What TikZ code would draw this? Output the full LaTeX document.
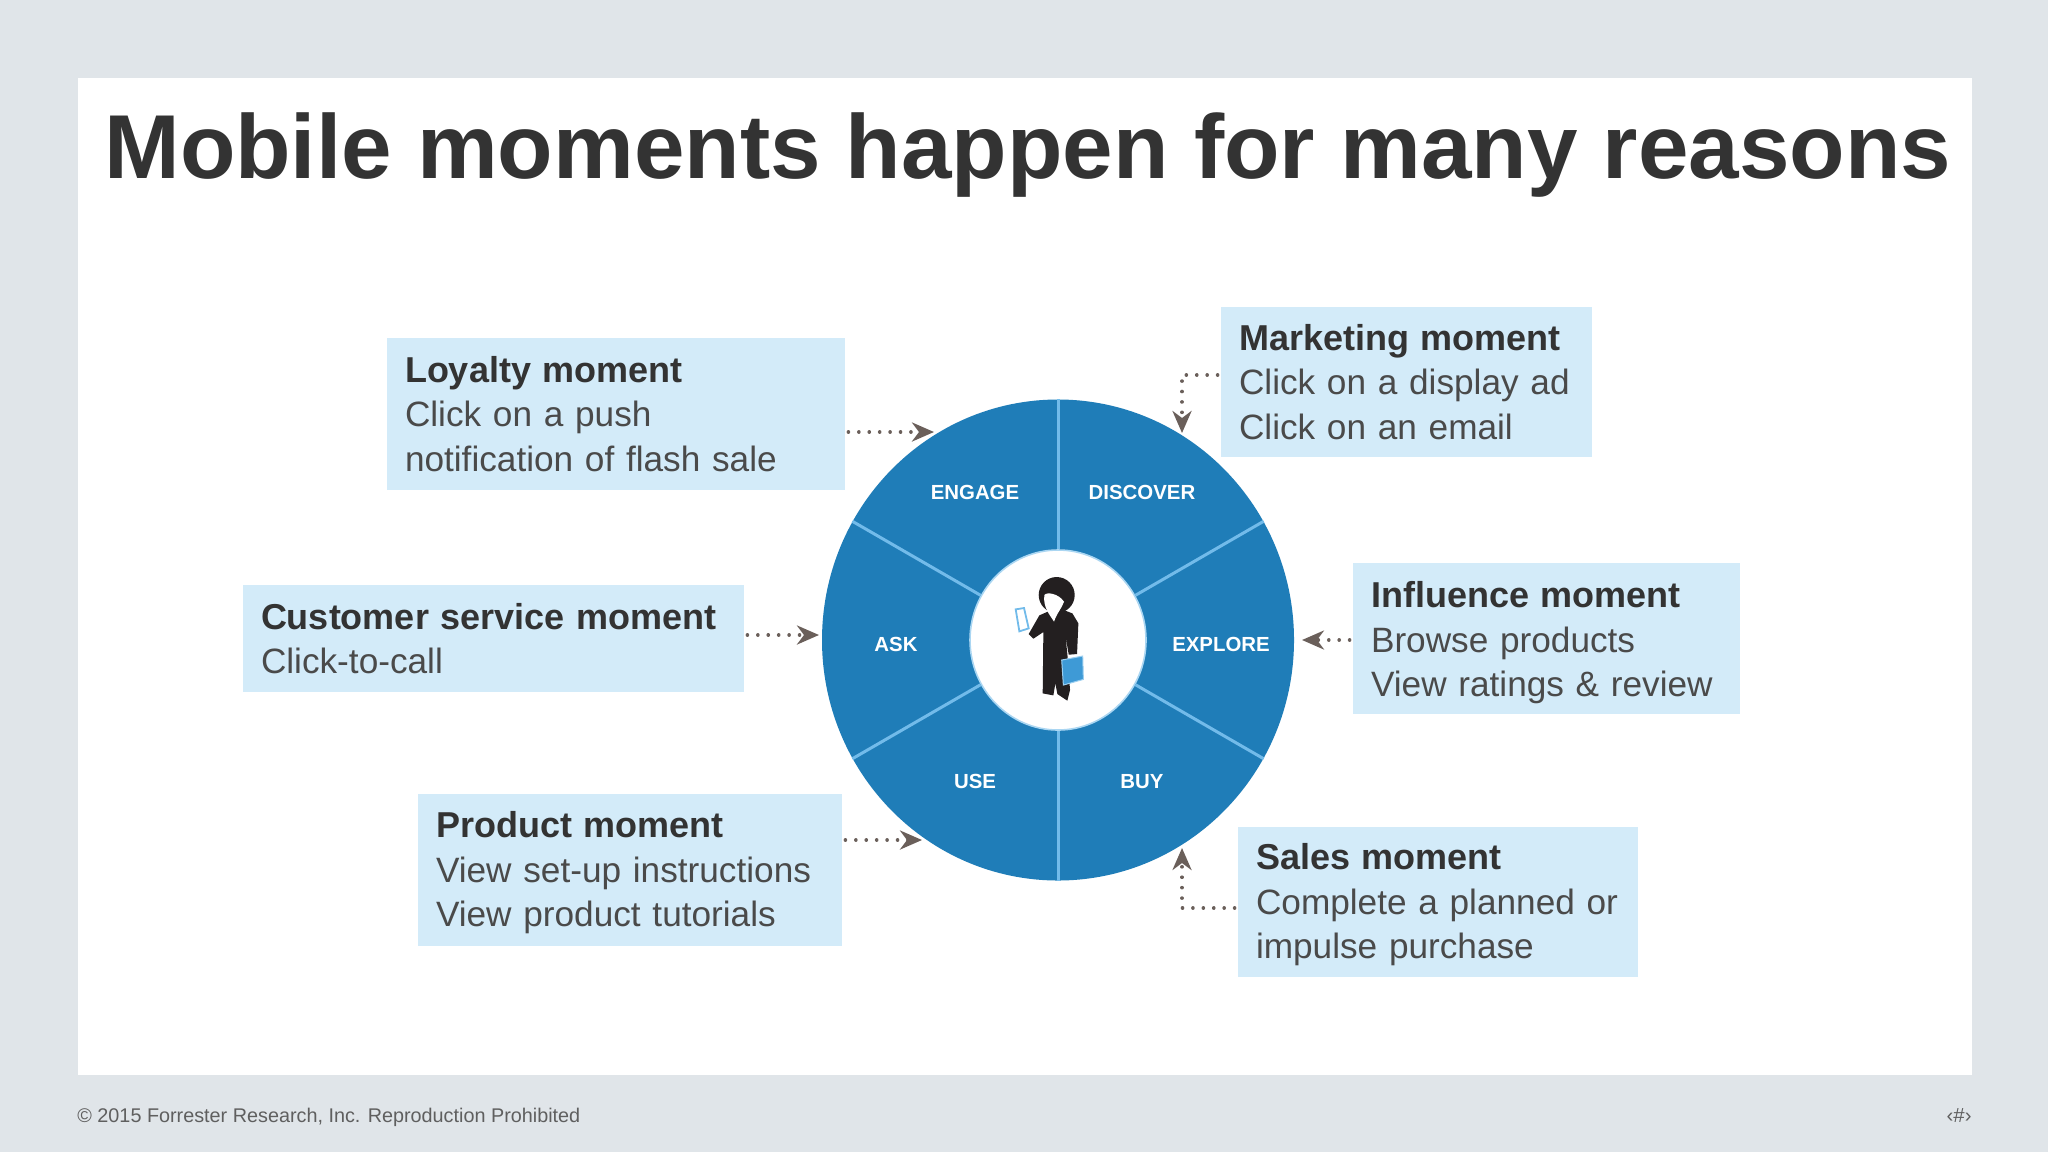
\documentclass[tikz,border=0pt]{standalone}
\usepackage{fontspec}
\setmainfont{Liberation Sans}
\usetikzlibrary{arrows.meta,shapes.geometric}
\definecolor{pagebg}{HTML}{E0E5E9}
\definecolor{titlecol}{HTML}{333333}
\definecolor{bodycol}{HTML}{4A4A4A}
\definecolor{boxfill}{HTML}{D3EBF9}
\definecolor{ringblue}{HTML}{1F7DB8}
\definecolor{divblue}{HTML}{72BBEA}
\definecolor{arrowcol}{HTML}{6A5F5A}
\definecolor{footcol}{HTML}{5F5F5F}
\definecolor{figcol}{HTML}{231F20}
\definecolor{bookcol}{HTML}{3E9AD6}
\newcommand{\hd}[2][0pt]{\rule{0pt}{#1}{\bfseries\fontsize{18}{22.2}\selectfont\color{titlecol}#2}}
\tikzset{
  x=0.5pt,y=-0.5pt,
  cbox/.style={fill=boxfill,draw=none,inner xsep=9pt,inner ysep=0pt,align=left,
    font=\fontsize{17.6}{22.2}\selectfont,text=bodycol,anchor=center},
  seglabel/.style={text=white,font=\bfseries\fontsize{10.2}{12}\selectfont,inner sep=0pt},
  dottedarrow/.style={draw=arrowcol,line width=1.8pt,line cap=round,dash pattern=on 0.01pt off 5.2pt,shorten <=1.5pt,
    -{Stealth[length=11pt,width=9.5pt,inset=3.5pt,fill=arrowcol]}},
  divider/.style={draw=divblue,line width=1.5pt},
  wedge/.style={ellipse,inner sep=0pt,fill=ringblue,minimum width=236pt,minimum height=240.5pt},
  hubdisc/.style={ellipse,inner sep=0pt,fill=white,draw=divblue!60,line width=0.8pt,minimum width=88pt,minimum height=90pt},
}
\begin{document}
\begin{tikzpicture}
\useasboundingbox (0,0) rectangle (2048,1152);
\fill[pagebg] (0,0) rectangle (2048,1152);
\fill[white] (78,78) rectangle (1972,1075);
\node[anchor=base west,inner sep=0pt,text=titlecol,font=\bfseries\fontsize{45.4}{53}\selectfont] (title) at (104,178) {Mobile moments happen for many reasons};

\node[wedge] (disc) at (1058,640) {};
\node[hubdisc] (hub) at (1058,640) {};
\draw[divider] (hub.90) -- (disc.90);
\draw[divider] (hub.270) -- (disc.270);
\draw[divider] (hub.30) -- (disc.30);
\draw[divider] (hub.150) -- (disc.150);
\draw[divider] (hub.210) -- (disc.210);
\draw[divider] (hub.330) -- (disc.330);

\node[seglabel] (engage) at (975,492) {ENGAGE};
\node[seglabel] (discover) at (1142,492) {DISCOVER};
\node[seglabel] (ask) at (896,644) {ASK};
\node[seglabel] (explore) at (1221,644) {EXPLORE};
\node[seglabel] (use) at (975,781) {USE};
\node[seglabel] (buy) at (1142,782) {BUY};

% person
\begin{scope}[shift={(950,520)},x=0.1667pt,y=-0.1667pt]
  \fill[figcol] (320,225) circle (54);
  \fill[figcol] (300,272) -- (268,286) -- (236,342) -- (250,356) -- (280,336) -- (278,520) -- (310,526)
    -- (316,490) -- (322,522) -- (352,542) -- (360,510) -- (352,402) -- (346,345) -- (356,404)
    -- (381,402) -- (385,310) -- (367,280) -- (330,266) -- cycle;
  \fill[white] (283,225) .. controls (290,215) and (325,220) .. (342,245)
     .. controls (335,265) and (320,280) .. (312,305) .. controls (300,285) and (278,262) .. (283,225) -- cycle;
  \filldraw[fill=white,draw=divblue,line width=0.9pt] (197,268) -- (222,264) -- (236,325) -- (208,334) -- cycle;
  \filldraw[fill=bookcol,draw=divblue!70,line width=0.5pt] (335,420) -- (398,408) -- (400,478) -- (340,495) -- cycle;
\end{scope}

\node[cbox,text width=211pt,minimum height=76pt] (loyalty) at (616,414) {\hd{Loyalty moment}\\Click on a push\\notification of flash sale};
\node[cbox,text width=167.5pt,minimum height=75pt] (marketing) at (1406.5,382) {\hd{Marketing moment}\\Click on a display ad\\Click on an email};
\node[cbox,text width=175.5pt,minimum height=75.5pt] (influence) at (1546.5,638.5) {\hd[17.5pt]{Influence moment}\\Browse products\\View ratings \& review};
\node[cbox,text width=232.5pt,minimum height=53.5pt] (customer) at (493.5,638.5) {\hd{Customer service moment}\\Click-to-call};
\node[cbox,text width=194pt,minimum height=76pt] (product) at (630,870) {\hd[16pt]{Product moment}\\View set-up instructions\\View product tutorials};
\node[cbox,text width=182pt,minimum height=75pt] (sales) at (1438,902) {\hd[16pt]{Sales moment}\\Complete a planned or\\impulse purchase};

\coordinate (tipL) at (934,432);
\coordinate (elbowM) at (1182,375);
\coordinate (tipM) at (1182,433);
\coordinate (tipI) at (1302,640);
\coordinate (tipC) at (819,635);
\coordinate (tipP) at (922,840);
\coordinate (elbowS) at (1182,908);
\coordinate (tipS) at (1182,848);
\draw[dottedarrow] (loyalty.east |- tipL) -- (tipL);
\draw[dottedarrow] (marketing.west |- elbowM) -- (elbowM) -- (tipM);
\draw[dottedarrow] (influence.west |- tipI) -- (tipI);
\draw[dottedarrow] (customer.east |- tipC) -- (tipC);
\draw[dottedarrow] (product.east |- tipP) -- (tipP);
\draw[dottedarrow] (sales.west |- elbowS) -- (elbowS) -- (tipS);

\node[anchor=base west,inner sep=0pt,text=footcol,font=\fontsize{9.9}{12}\selectfont] (foot) at (77,1122) {© 2015 Forrester Research, Inc. Reproduction Prohibited};
\node[anchor=base east,inner sep=0pt,text=footcol,font=\fontsize{10.2}{12}\selectfont] (pagenum) at (1972,1122) {‹\#›};
\end{tikzpicture}
\end{document}
